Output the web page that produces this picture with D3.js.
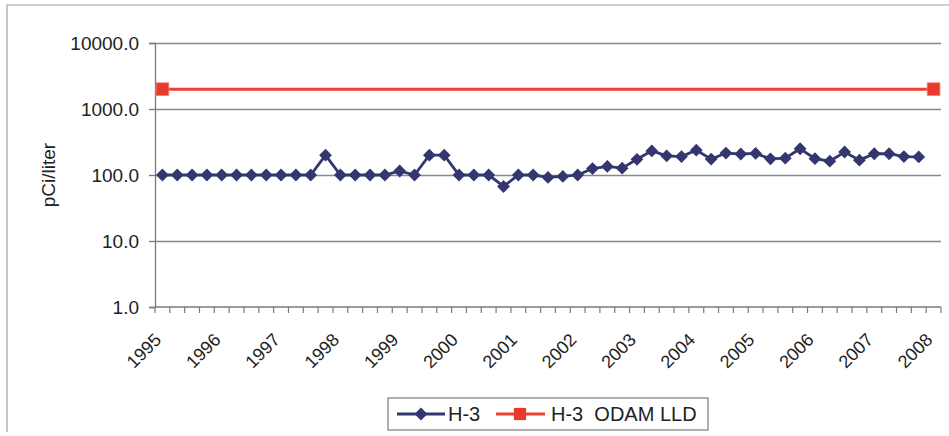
<!DOCTYPE html>
<html>
<head>
<meta charset="utf-8">
<script src="https://cdn.jsdelivr.net/npm/d3@7"></script>
<style>
  html, body { margin: 0; padding: 0; background: #ffffff; }
  svg { display: block; font-family: "Liberation Sans", Arial, sans-serif; }
</style>
</head>
<body>
<svg id="chart" width="949" height="436"></svg>
<script>
// ---- data ----
const quarters = [
  "1995 Q1","1995 Q2","1995 Q3","1995 Q4",
  "1996 Q1","1996 Q2","1996 Q3","1996 Q4",
  "1997 Q1","1997 Q2","1997 Q3","1997 Q4",
  "1998 Q1","1998 Q2","1998 Q3","1998 Q4",
  "1999 Q1","1999 Q2","1999 Q3","1999 Q4",
  "2000 Q1","2000 Q2","2000 Q3","2000 Q4",
  "2001 Q1","2001 Q2","2001 Q3","2001 Q4",
  "2002 Q1","2002 Q2","2002 Q3","2002 Q4",
  "2003 Q1","2003 Q2","2003 Q3","2003 Q4",
  "2004 Q1","2004 Q2","2004 Q3","2004 Q4",
  "2005 Q1","2005 Q2","2005 Q3","2005 Q4",
  "2006 Q1","2006 Q2","2006 Q3","2006 Q4",
  "2007 Q1","2007 Q2","2007 Q3","2007 Q4",
  "2008 Q1"
];
const yearLabels = ["1995","1996","1997","1998","1999","2000","2001","2002","2003","2004","2005","2006","2007","2008"];
const h3Values = [
  100,100,100,100, 100,100,100,100, 100,100,100,200,
  100,100,100,100, 115,100,200,200, 100,100,100,67,
  100,100,92,95, 100,125,135,127, 173,232,195,190,
  238,174,215,208, 212,176,180,250, 177,162,223,168,
  210,210,190,188, null
];
const lldValues = [2000].concat(new Array(51).fill(null)).concat([2000]);
const yTicks = [1, 10, 100, 1000, 10000];
const seriesNames = ["H-3", "H-3  ODAM LLD"];

// ---- layout ----
const svg = d3.select("#chart");
const plot = { left: 155, right: 941, top: 43, bottom: 307 };
const blue = "#33376f", red = "#ee4036", grid = "#7f8b98", textCol = "#222222";

// outer frame (left + top edges visible)
svg.append("path")
  .attr("d", "M7,432 L7,5 L960,5")
  .attr("fill", "none").attr("stroke", "#a0a0a0").attr("stroke-width", 1.2);

const x = d3.scaleBand().domain(quarters).range([plot.left, plot.right]).padding(0);
const bw = x.bandwidth();
const cx = q => x(q) + bw / 2;
const y = d3.scaleLog().domain([1, 10000]).range([plot.bottom, plot.top]);

// gridlines
svg.append("g")
  .attr("transform", `translate(${plot.left},0)`)
  .call(d3.axisLeft(y).tickValues(yTicks.filter(t => t > 1)).tickSize(-(plot.right - plot.left)).tickFormat(""))
  .call(g => g.select(".domain").remove())
  .call(g => g.selectAll("line").attr("stroke", grid).attr("stroke-width", 1.3));

// y axis
const yAxis = svg.append("g")
  .attr("transform", `translate(${plot.left},0)`)
  .call(d3.axisLeft(y).tickValues(yTicks).tickSize(6).tickPadding(10).tickFormat(d3.format(".1f")));
yAxis.select(".domain").attr("stroke", "#7a7a7a").attr("stroke-width", 1.3);
yAxis.selectAll(".tick line").attr("stroke", "#7a7a7a").attr("stroke-width", 1.3);
yAxis.selectAll(".tick text").attr("fill", textCol).style("font-size", "19px");

// x axis line + category boundary ticks
const xg = svg.append("g");
xg.append("line")
  .attr("x1", plot.left).attr("x2", plot.right)
  .attr("y1", plot.bottom).attr("y2", plot.bottom)
  .attr("stroke", "#7a7a7a").attr("stroke-width", 1.3);
const bounds = quarters.map(q => x(q)).concat([x.range()[1]]);
xg.selectAll("line.tk").data(bounds).join("line")
  .attr("class", "tk")
  .attr("x1", d => d).attr("x2", d => d)
  .attr("y1", plot.bottom).attr("y2", plot.bottom + 6)
  .attr("stroke", "#7a7a7a").attr("stroke-width", 1.2);
xg.selectAll("text").data(yearLabels).join("text")
  .attr("transform", (d, i) => `translate(${cx(quarters[i * 4])},341) rotate(-45)`)
  .attr("text-anchor", "end")
  .attr("fill", textCol)
  .style("font-size", "18px")
  .text(d => d);

// y-axis title
svg.append("text")
  .attr("transform", "translate(55,175) rotate(-90)")
  .attr("text-anchor", "middle")
  .attr("fill", textCol)
  .style("font-size", "19px")
  .text("pCi/liter");

// LLD series (connected across empty cells)
const lldPts = quarters.map((q, i) => ({ q, v: lldValues[i] })).filter(d => d.v != null);
svg.append("path")
  .datum(lldPts)
  .attr("d", d3.line().x(d => cx(d.q)).y(d => y(d.v)))
  .attr("fill", "none").attr("stroke", red).attr("stroke-width", 3);
svg.selectAll("path.sq").data(lldPts).join("path")
  .attr("class", "sq")
  .attr("transform", d => `translate(${cx(d.q)},${y(d.v)})`)
  .attr("d", d3.symbol(d3.symbolSquare, 160)())
  .attr("fill", "#e8392f").attr("stroke", "#f27a6a").attr("stroke-width", 0.8);

// H-3 series
const h3Pts = quarters.map((q, i) => ({ q, v: h3Values[i] }));
svg.append("path")
  .datum(h3Pts)
  .attr("d", d3.line().defined(d => d.v != null).x(d => cx(d.q)).y(d => y(d.v)))
  .attr("fill", "none").attr("stroke", blue).attr("stroke-width", 2.8);
svg.selectAll("path.dm").data(h3Pts.filter(d => d.v != null)).join("path")
  .attr("class", "dm")
  .attr("transform", d => `translate(${cx(d.q)},${y(d.v)}) rotate(45)`)
  .attr("d", d3.symbol(d3.symbolSquare, 82)())
  .attr("fill", blue);

// legend
const lg = svg.append("g");
lg.append("rect").attr("x", 388).attr("y", 398).attr("width", 320).attr("height", 32)
  .attr("fill", "none").attr("stroke", "#7a7a7a").attr("stroke-width", 1.2);
lg.append("line").attr("x1", 397).attr("x2", 445).attr("y1", 414).attr("y2", 414)
  .attr("stroke", blue).attr("stroke-width", 2.8);
lg.append("path").attr("transform", "translate(421,414) rotate(45)")
  .attr("d", d3.symbol(d3.symbolSquare, 82)()).attr("fill", blue);
lg.append("text").attr("x", 448).attr("y", 421).attr("fill", textCol)
  .style("font-size", "20px").text(seriesNames[0]);
lg.append("line").attr("x1", 496).attr("x2", 545).attr("y1", 414).attr("y2", 414)
  .attr("stroke", red).attr("stroke-width", 3);
lg.append("path").attr("transform", "translate(520,414)")
  .attr("d", d3.symbol(d3.symbolSquare, 150)()).attr("fill", "#e8392f");
lg.append("text").attr("x", 551).attr("y", 421).attr("fill", textCol)
  .style("font-size", "20px").style("white-space", "pre").text(seriesNames[1]);
</script>
</body>
</html>
